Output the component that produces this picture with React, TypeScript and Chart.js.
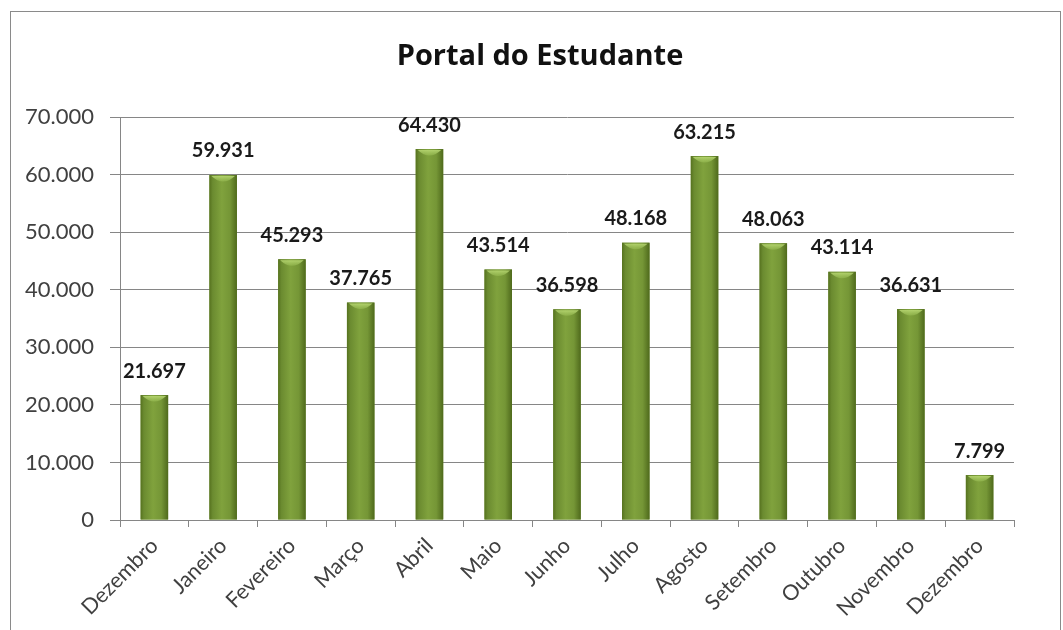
import React, { useEffect, useRef } from "react";
import { Chart, registerables } from "chart.js";

Chart.register(...registerables);

const chartTitle = "Portal do Estudante";
const months = [
  "Dezembro", "Janeiro", "Fevereiro", "Março", "Abril", "Maio", "Junho",
  "Julho", "Agosto", "Setembro", "Outubro", "Novembro", "Dezembro",
];
const accesses = [
  21697, 59931, 45293, 37765, 64430, 43514, 36598, 48168, 63215, 48063, 43114, 36631, 7799,
];
const yMin = 0;
const yMax = 70000;
const yStep = 10000;

const FONT = "Lato, 'Open Sans', sans-serif";
const TITLE_FONT = "'Open Sans', Lato, sans-serif";

function fmt(v: number): string {
  return String(Math.round(v)).replace(/\B(?=(\d{3})+(?!\d))/g, ".");
}

const titlePlugin = {
  id: "customTitle",
  afterDraw(chart: any) {
    const ctx = chart.ctx;
    ctx.save();
    ctx.fillStyle = "#111";
    ctx.font = `bold 29px ${TITLE_FONT}`;
    ctx.textAlign = "center";
    ctx.textBaseline = "middle";
    ctx.fillText(chartTitle, 540, 57);
    ctx.restore();
  },
};

const barStylePlugin = {
  id: "barStyle",
  afterDatasetsDraw(chart: any) {
    const ctx = chart.ctx;
    const meta = chart.getDatasetMeta(0);
    const data = chart.data.datasets[0].data as number[];
    ctx.save();
    meta.data.forEach((el: any, i: number) => {
      const { x, y, base, width } = el.getProps(["x", "y", "base", "width"], true);
      const l = x - width / 2;
      const r = x + width / 2;
      const g = ctx.createLinearGradient(l, 0, r, 0);
      g.addColorStop(0, "#56721f");
      g.addColorStop(0.12, "#6b8b30");
      g.addColorStop(0.45, "#80a23d");
      g.addColorStop(0.75, "#759636");
      g.addColorStop(1, "#4f6a1c");
      ctx.fillStyle = g;
      ctx.fillRect(l, y, width, base - y);
      const cg = ctx.createLinearGradient(0, y, 0, y + 10);
      cg.addColorStop(0, "rgba(190,220,120,0.95)");
      cg.addColorStop(1, "rgba(160,200,90,0)");
      ctx.fillStyle = cg;
      ctx.beginPath();
      ctx.moveTo(l + 2, y + 1);
      ctx.lineTo(r - 2, y + 1);
      ctx.quadraticCurveTo(x, y + 12, l + 2, y + 1);
      ctx.fill();
      ctx.fillStyle = "#1a1a1a";
      ctx.font = `bold 20px ${FONT}`;
      ctx.textAlign = "center";
      ctx.textBaseline = "middle";
      ctx.fillText(fmt(data[i]), x, y - 24);
    });
    ctx.restore();
  },
};

export default function App() {
  const canvasRef = useRef<HTMLCanvasElement | null>(null);

  useEffect(() => {
    const canvas = canvasRef.current;
    if (!canvas) return;
    const chart = new Chart(canvas, {
      type: "bar",
      data: {
        labels: months,
        datasets: [
          {
            data: accesses,
            backgroundColor: "#77963a",
            borderWidth: 0,
            barPercentage: 0.4,
            categoryPercentage: 1,
          },
        ],
      },
      options: {
        responsive: false,
        animation: false,
        layout: { padding: { left: 0, right: 49, top: 117, bottom: 0 } },
        plugins: {
          legend: { display: false },
          title: { display: false },
          tooltip: { enabled: false },
        },
        scales: {
          x: {
            grid: {
              display: true,
              drawOnChartArea: false,
              drawTicks: true,
              tickLength: 7,
              color: "#868686",
              offset: true,
            },
            border: { display: true, color: "#868686" },
            ticks: {
              autoSkip: false,
              maxRotation: 45,
              minRotation: 45,
              padding: 6,
              color: "#404040",
              font: { family: FONT, size: 21.5 },
            },
            afterFit(scale: any) {
              scale.height = 110;
            },
          },
          y: {
            min: yMin,
            max: yMax,
            grid: {
              color: "#868686",
              tickLength: 10,
              lineWidth: 1,
            },
            border: { display: true, color: "#868686" },
            ticks: {
              stepSize: yStep,
              padding: 16,
              color: "#404040",
              font: { family: FONT, size: 22 },
              callback: (v: any) => fmt(Number(v)),
            },
            afterFit(scale: any) {
              scale.width = 120;
            },
          },
        },
      },
      plugins: [titlePlugin, barStylePlugin],
    });
    return () => chart.destroy();
  }, []);

  return (
    <div style={{ position: "absolute", left: 0, top: 0, width: 1063, height: 630, background: "#fff", overflow: "hidden" }}>
      <div
        style={{
          position: "absolute",
          left: 10,
          top: 11,
          width: 1051,
          height: 640,
          border: "1px solid #8a8a8a",
          boxSizing: "border-box",
        }}
      />
      <canvas
        ref={canvasRef}
        width={1063}
        height={630}
        style={{ position: "absolute", left: 0, top: 0, width: 1063, height: 630 }}
      />
    </div>
  );
}
